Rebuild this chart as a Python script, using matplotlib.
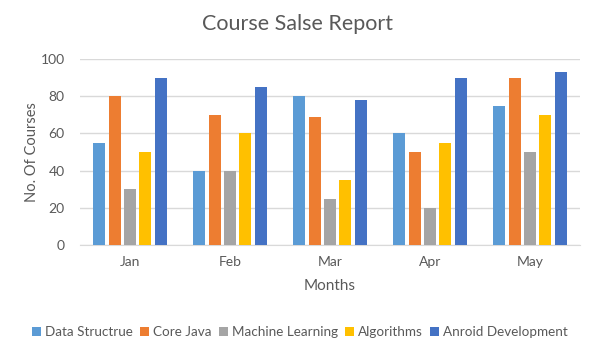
import matplotlib
matplotlib.use("Agg")
import matplotlib.pyplot as plt
import numpy as np

months = ["Jan", "Feb", "Mar", "Apr", "May"]
series_names = ["Data Structrue", "Core Java", "Machine Learning", "Algorithms", "Anroid Development"]
data_structure = [55, 40, 80, 60, 75]
core_java = [80, 70, 69, 50, 90]
machine_learning = [30, 40, 25, 20, 50]
algorithms = [50, 60, 35, 55, 70]
android_dev = [90, 85, 78, 90, 93]
colors = ["#5B9BD5", "#ED7D31", "#A5A5A5", "#FFC000", "#4472C4"]

plt.rcParams['font.family'] = ['Lato', 'DejaVu Sans']
txt = "#595959"

fig = plt.figure(figsize=(5.97, 3.52), dpi=100)
ax = fig.add_axes([80/597, 1-245/352, 500/597, 186/352])

values = [data_structure, core_java, machine_learning, algorithms, android_dev]
x = np.arange(len(months))
slot = 0.153
width = 0.12
for i, (name, vals, c) in enumerate(zip(series_names, values, colors)):
    ax.bar(x + (i - 2) * slot, vals, width, color=c, label=name, zorder=3)

ax.set_xlim(-0.5, 4.5)
ax.set_ylim(0, 100)
ax.set_yticks(range(0, 101, 20))
ax.yaxis.grid(True, color="#D9D9D9", linewidth=1, zorder=0)
for s in ["top", "right", "left"]:
    ax.spines[s].set_visible(False)
ax.spines["bottom"].set_color("#D9D9D9")
ax.set_xticks(x)
ax.set_xticklabels(months)
ax.tick_params(axis="both", length=0, labelsize=10, colors=txt, pad=8)
ax.tick_params(axis="y", pad=11)

ax.set_ylabel("No. Of Courses", fontsize=10.5, color=txt, labelpad=1)
ax.set_xlabel("Months", fontsize=11, color=txt, labelpad=8)
fig.text(298/597, 1-24/352, "Course Salse Report", ha="center", va="center", fontsize=15.5, color=txt)

leg = fig.legend(loc="center", bbox_to_anchor=(300/597, 1-332/352), ncol=5, frameon=False,
                 fontsize=9.7, handlelength=0.7, handleheight=0.7, handletextpad=0.3,
                 columnspacing=0.5, labelcolor=txt)

fig.savefig("out.png", dpi=100)
